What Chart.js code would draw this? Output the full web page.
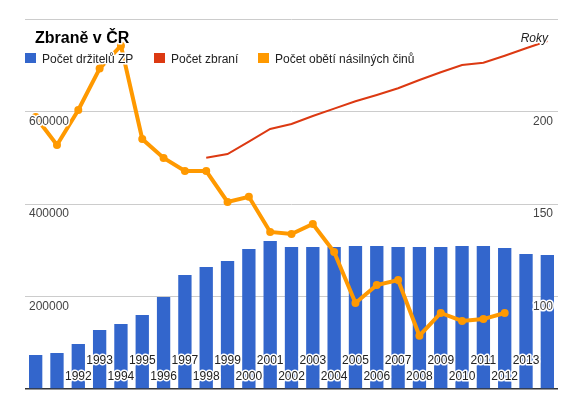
<!DOCTYPE html>
<html>
<head>
<meta charset="utf-8">
<script src="https://cdn.jsdelivr.net/npm/chart.js@4/dist/chart.umd.min.js"></script>
<style>
  html, body { margin: 0; padding: 0; background: #fff; }
  #wrap { width: 575px; height: 399px; }
</style>
</head>
<body>
<div id="wrap"><canvas id="zbrane" width="575" height="399"></canvas></div>
<script>
// Zbraně v ČR – držitelé ZP, počet zbraní, oběti násilných činů

const years = ['1990', '1991', '1992', '1993', '1994', '1995', '1996', '1997', '1998', '1999',
    '2000', '2001', '2002', '2003', '2004', '2005', '2006', '2007', '2008', '2009',
    '2010', '2011', '2012', '2013', '2014'];

const holders = [73500, 77800, 97300, 127600, 140500, 160000, 199000, 246500, 263800, 276800,
    302700, 320000, 307000, 307000, 307000, 309200, 309200, 307000, 307000, 307000,
    309200, 309200, 304900, 291900, 289700];

const guns = [null, null, null, null, null, null, null, null, 500100, 508100,
    535100, 562200, 573000, 590300, 606100, 622100, 635700, 650200, 668100, 684800,
    700600, 705500, 720700, 736700, 752500];

const victims = [197.0, 181.9, 200.8, 223.2, 235.6, 185.1, 174.9, 167.8, 167.8, 151.1,
    153.9, 134.9, 133.8, 139.2, 124.0, 96.5, 106.2, 108.9, 78.8, 91.1,
    86.8, 87.8, 91.1, null, null];

const leftTicks = [200000, 400000, 600000];
const rightTicks = [100, 150, 200];
const yearLabels = ['1992', '1993', '1994', '1995', '1996', '1997', '1998', '1999', '2000', '2001',
    '2002', '2003', '2004', '2005', '2006', '2007', '2008', '2009', '2010', '2011', '2012', '2013'];

const seriesNames = ['Počet držitelů ZP', 'Počet zbraní', 'Počet obětí násilných činů'];
const colors = ['#3366cc', '#dc3912', '#ff9900'];

const FONT = '"Liberation Sans", Arial, sans-serif';

function haloText(ctx, text, x, y, color) {
    ctx.lineWidth = 3;
    ctx.strokeStyle = '#fff';
    ctx.lineJoin = 'round';
    ctx.strokeText(text, x, y);
    ctx.fillStyle = color;
    ctx.fillText(text, x, y);
}

// popisky os, roky, titulek a legenda jsou kreslené uvnitř grafu
const overlay = {
    id: 'overlay',
    afterDatasetsDraw(chart) {
        const ctx = chart.ctx;
        const area = chart.chartArea;
        const xs = chart.scales.x;
        const yL = chart.scales.y;
        const yR = chart.scales.y1;
        ctx.save();

        ctx.font = '12px ' + FONT;
        ctx.textBaseline = 'middle';

        ctx.textAlign = 'left';
        leftTicks.forEach(v => {
            haloText(ctx, String(v), area.left + 4, yL.getPixelForValue(v) + 10, '#444');
        });
        ctx.textAlign = 'right';
        rightTicks.forEach(v => {
            haloText(ctx, String(v), area.right - 5, yR.getPixelForValue(v) + 10, '#444');
        });

        ctx.textAlign = 'center';
        years.forEach((yr, i) => {
            if (!yearLabels.includes(yr)) return;
            const px = xs.getPixelForValue(i);
            const py = area.bottom - (i % 2 ? 28 : 12);
            haloText(ctx, yr, px, py, '#222');
        });

        // titulek
        ctx.textBaseline = 'alphabetic';
        ctx.textAlign = 'left';
        ctx.font = 'bold 16px ' + FONT;
        haloText(ctx, 'Zbraně v ČR', 35, 43, '#000');

        // osa x – nadpis
        ctx.font = 'italic 12px ' + FONT;
        ctx.textAlign = 'right';
        haloText(ctx, 'Roky', 548, 41.5, '#222');

        // legenda
        ctx.font = '12px ' + FONT;
        ctx.textAlign = 'left';
        const legendX = [25, 154, 258];
        seriesNames.forEach((name, i) => {
            ctx.fillStyle = colors[i];
            ctx.fillRect(legendX[i], 53, 11, 10);
            haloText(ctx, name, legendX[i] + 17, 62.5, '#222');
        });

        ctx.restore();
    }
};

new Chart(document.getElementById('zbrane'), {
    type: 'bar',
    data: {
        labels: years,
        datasets: [
            {
                type: 'line',
                label: seriesNames[2],
                data: victims,
                yAxisID: 'y1',
                borderColor: colors[2],
                backgroundColor: colors[2],
                borderWidth: 4,
                pointRadius: 4,
                pointBorderWidth: 0,
                pointBackgroundColor: colors[2],
                tension: 0,
                order: 1
            },
            {
                type: 'line',
                label: seriesNames[1],
                data: guns,
                yAxisID: 'y',
                borderColor: colors[1],
                borderWidth: 2,
                pointRadius: 0,
                tension: 0,
                order: 2
            },
            {
                label: seriesNames[0],
                data: holders,
                yAxisID: 'y',
                backgroundColor: colors[0],
                categoryPercentage: 1,
                barPercentage: 0.625,
                order: 3
            }
        ]
    },
    options: {
        responsive: false,
        animation: false,
        layout: { padding: { left: 25, right: 17, top: 19, bottom: 10 } },
        plugins: {
            legend: { display: false },
            tooltip: { enabled: false }
        },
        scales: {
            x: {
                display: false,
                offset: true
            },
            y: {
                min: 0,
                max: 800000,
                ticks: { display: false, stepSize: 200000 },
                border: { display: false },
                grid: {
                    drawTicks: false,
                    color: ctx => ctx.tick.value === 0 ? '#333' : '#cccccc',
                    lineWidth: ctx => ctx.tick.value === 0 ? 1.5 : 1
                }
            },
            y1: {
                position: 'right',
                display: false,
                min: 50,
                max: 250
            }
        }
    },
    plugins: [overlay]
});
</script>
</body>
</html>
